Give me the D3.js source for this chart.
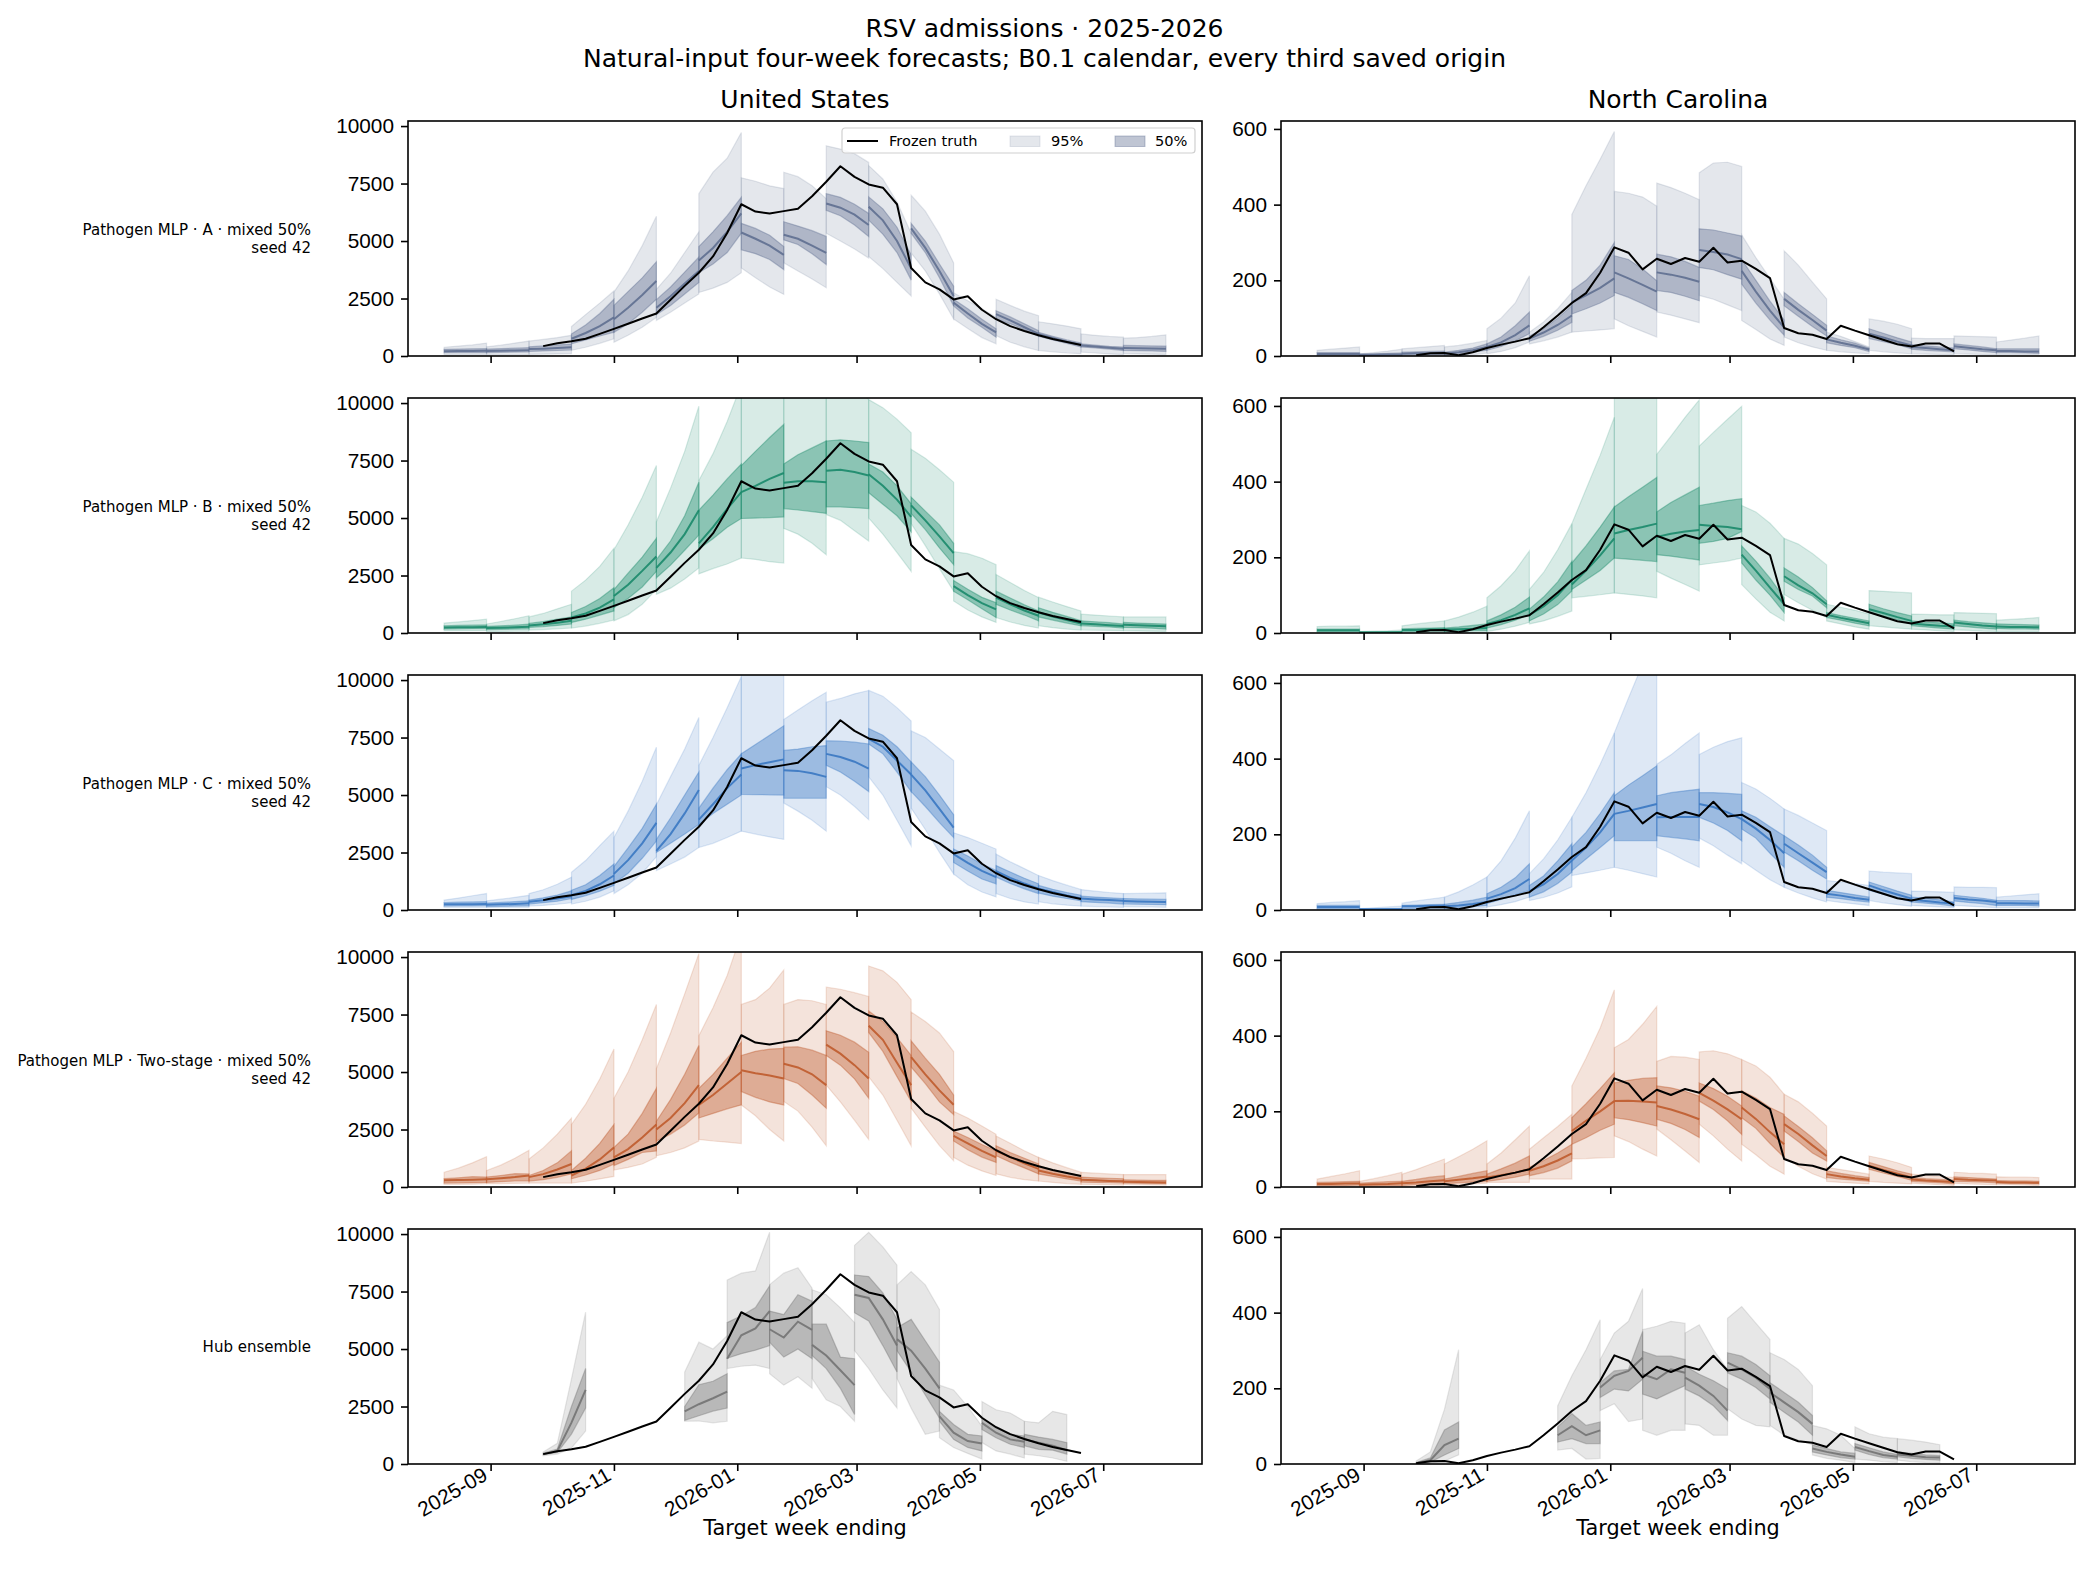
<!DOCTYPE html>
<html lang="en">
<head>
<meta charset="utf-8">
<title>RSV admissions · 2025-2026</title>
<script src="https://cdnjs.cloudflare.com/ajax/libs/d3/7.8.5/d3.min.js"></script>
<style>
  body { margin: 0; background: #fff; }
  svg { display: block; font-family: "DejaVu Sans", sans-serif; }
  .tick line { stroke: #000; stroke-width: 1.6; }
  .tick text { font-size: 20.8px; fill: #000; }
</style>
</head>
<body>
<script>
// ---- data ----
const modelOrigins = ["2025-08-09","2025-08-30","2025-09-20","2025-10-11","2025-11-01","2025-11-22",
  "2025-12-13","2026-01-03","2026-01-24","2026-02-14","2026-03-07","2026-03-28","2026-04-18",
  "2026-05-09","2026-05-30","2026-06-20","2026-07-11"];
const hubOrigins = ["2025-09-27","2025-12-06","2025-12-27","2026-01-17","2026-02-07","2026-02-28",
  "2026-03-21","2026-04-11","2026-05-02","2026-05-23"];
const horizonDays = [0, 7, 14, 21];

const truthStart = "2025-09-27";
const usTruth = [430,550,640,750,960,1180,1400,1630,1850,2450,3050,3620,4330,5350,6600,6280,6200,6300,
  6400,6950,7580,8250,7790,7460,7320,6600,3830,3200,2900,2460,2600,2010,1600,1300,1090,900,740,610,480];
const ncTruth = [2,7,8,2,10,21,30,38,47,76,107,140,166,220,287,273,229,257,243,259,249,286,247,252,230,
  206,74,60,56,45,80,67,55,43,31,25,33,33,12];

// each fan: four weekly points of [q2.5, q25, median, q75, q97.5]
const usA = [
  [[60,150,210,290,380],[60,150,215,300,430],[60,150,220,310,480],[60,150,225,320,560]],
  [[60,150,220,300,400],[60,160,230,320,470],[60,170,240,340,560],[60,180,250,360,650]],
  [[70,200,300,400,650],[80,220,320,440,720],[90,240,350,480,800],[100,260,380,520,900]],
  [[250,530,750,960,1280],[380,700,1000,1350,1800],[550,870,1300,1850,2300],[750,1030,1680,2470,2830]],
  [[600,1030,1600,2200,2780],[900,1400,2100,2800,3700],[1250,1900,2650,3400,4800],[1680,2470,3260,4100,6080]],
  [[1550,1800,2100,2450,2900],[1900,2200,2600,3000,3600],[2300,2700,3150,3650,4500],[2700,3200,3700,4300,5400]],
  [[2760,3620,4150,4760,7060],[2950,4000,4700,5400,8000],[3200,4500,5400,6100,8600],[3620,5340,6200,6900,9720]],
  [[3830,4620,5370,5770,7750],[3400,4450,5100,5550,7600],[3000,4200,4800,5250,7400],[2680,3760,4400,4760,7280]],
  [[4050,5050,5270,5840,7990],[3700,4850,5100,5650,7800],[3350,4450,4800,5450,7400],[2970,3980,4480,5200,6840]],
  [[5340,6340,6630,7060,9140],[5000,6100,6450,6900,9000],[4650,5700,6150,6600,8800],[4260,5200,5700,6200,8420]],
  [[4330,5910,6490,6920,8280],[3800,5300,5900,6400,7700],[3200,4500,5000,5600,6700],[2610,3300,3800,4400,5340]],
  [[4480,5340,5550,5770,6990],[3700,4500,4700,5000,6300],[2700,3400,3700,4000,5300],[1610,2180,2610,3040,4050]],
  [[1610,2180,2320,2470,2750],[1200,1650,1850,2050,2400],[800,1250,1400,1600,2050],[530,820,1030,1180,1680]],
  [[890,1610,1820,1970,2470],[600,1400,1550,1700,2200],[400,1150,1250,1400,1950],[240,860,960,1100,1750]],
  [[240,860,950,1030,1490],[180,700,780,860,1400],[130,550,620,700,1300],[100,390,490,570,1180]],
  [[170,390,460,530,960],[130,350,410,470,900],[90,300,360,420,850],[60,240,316,390,820]],
  [[100,240,345,460,775],[90,230,340,450,800],[80,220,330,440,850],[60,200,316,430,920]]
];
const ncA = [
  [[0,2,5,9,15],[0,2,5,9,18],[0,2,5,9,21],[0,2,5,9,24]],
  [[0,1,3,5,6],[0,1,3,6,9],[0,2,4,7,13],[0,2,4,8,18]],
  [[0,3,6,10,19],[0,3,7,11,22],[0,4,7,12,25],[0,4,8,13,28]],
  [[0,3,6,10,24],[1,6,10,15,28],[3,10,15,21,34],[8,15,24,32,41]],
  [[6,15,24,32,72],[12,25,36,50,100],[22,40,55,80,140],[37,59,81,116,212]],
  [[32,39,46,53,63],[40,52,62,72,90],[50,68,82,100,125],[63,89,107,133,168]],
  [[63,111,142,173,374],[66,125,160,200,450],[69,140,180,240,520],[72,160,205,300,593]],
  [[98,168,221,265,435],[80,155,205,255,430],[65,138,188,230,420],[50,120,170,199,396]],
  [[116,173,221,269,457],[108,168,215,262,445],[98,158,207,250,430],[88,146,196,234,413]],
  [[160,234,280,336,484],[150,228,275,333,510],[135,215,268,325,512],[120,203,256,317,501]],
  [[94,190,225,255,320],[70,140,170,200,260],[45,95,120,145,205],[28,55,75,95,150]],
  [[50,133,151,168,278],[35,105,122,138,240],[24,78,95,110,195],[15,53,67,81,151]],
  [[15,35,44,53,63],[11,28,35,43,52],[8,22,27,34,38],[6,12,17,21,24]],
  [[15,46,59,72,98],[11,38,49,60,92],[8,30,38,48,84],[6,19,28,37,72]],
  [[6,18,24,30,47],[5,15,21,27,46],[4,13,18,24,46],[4,11,15,21,46]],
  [[6,19,26,32,53],[5,16,22,28,52],[4,12,18,24,51],[4,9,15,19,50]],
  [[3,9,13,19,37],[3,9,13,19,42],[3,8,12,19,47],[3,7,12,19,53]]
];
const usB = [
  [[100,172,244,316,430],[100,180,250,330,480],[100,185,255,340,540],[100,190,260,350,600]],
  [[70,150,215,290,390],[70,160,230,310,500],[75,170,250,340,620],[80,180,270,380,750]],
  [[130,244,330,416,700],[150,280,380,500,850],[180,330,450,600,1050],[215,390,530,700,1250]],
  [[215,460,675,890,1820],[300,600,850,1150,2300],[420,780,1100,1500,2900],[560,960,1460,1970,3690]],
  [[530,1100,1610,1890,3620],[800,1500,2100,2600,4700],[1250,2000,2700,3300,5900],[1890,2680,3330,4120,7280]],
  [[1680,2400,2830,3190,4840],[1950,2950,3500,4000,6300],[2350,3600,4300,5100,7900],[2830,4260,5340,6560,9860]],
  [[2570,3650,3900,5340,6630],[2800,4100,4600,6000,7800],[3000,4600,5400,6700,9200],[3260,4980,6130,7350,10800]],
  [[3260,4980,6130,7280,11500],[3200,5000,6400,7900,12500],[3100,5020,6700,8500,13500],[3040,5050,6960,9070,14000]],
  [[4550,5410,6530,7350,11000],[4300,5350,6600,7750,12000],[3900,5280,6600,8050,12500],[3400,5200,6560,8350,13000]],
  [[5150,5480,7060,8350,12000],[4900,5480,7100,8400,11500],[4450,5450,7000,8350,10800],[4000,5410,6850,8280,10150]],
  [[5000,6100,6900,7350,10150],[4300,5600,6400,7000,9800],[3500,5100,5800,6400,9300],[2680,4400,5050,5620,8710]],
  [[4760,5200,5550,5910,7990],[3800,4500,4900,5300,7600],[2800,3700,4200,4700,7100],[1820,2970,3470,3900,6560]],
  [[1390,1820,2040,2280,3540],[1000,1450,1650,1900,3450],[700,1050,1300,1550,3250],[460,675,1030,1320,2970]],
  [[675,1250,1540,1820,2540],[480,1000,1250,1520,2200],[330,780,980,1230,1850],[215,530,750,960,1540]],
  [[316,700,890,1100,1560],[230,560,720,900,1350],[170,430,560,720,1150],[130,316,416,530,960]],
  [[130,316,416,530,820],[120,290,380,490,780],[110,260,340,450,740],[100,215,300,390,700]],
  [[100,244,360,460,700],[90,230,340,430,700],[80,210,310,410,700],[70,172,290,390,700]]
];
const ncB = [
  [[0,4,7,10,17],[0,4,7,10,18],[0,4,7,10,18],[0,4,7,10,19]],
  [[0,0,1,3,4],[0,0,1,3,5],[0,0,1,4,6],[0,1,2,4,8]],
  [[0,4,8,11,19],[0,4,8,12,24],[0,5,9,13,28],[0,5,9,14,32]],
  [[0,4,9,13,32],[1,5,10,16,42],[1,6,11,20,55],[2,6,13,24,71]],
  [[4,13,24,32,93],[10,22,34,48,125],[18,34,48,68,165],[28,48,65,95,217]],
  [[24,32,48,63,115],[32,50,70,95,160],[44,75,100,135,220],[58,111,141,189,289]],
  [[93,115,128,185,289],[97,140,165,230,380],[101,165,205,280,470],[106,198,250,333,570]],
  [[106,198,263,333,700],[102,195,272,360,720],[98,192,280,385,740],[93,189,289,411,760]],
  [[163,207,254,320,472],[145,203,262,345,520],[128,198,268,365,570],[111,193,272,385,616]],
  [[180,237,286,337,494],[185,242,283,343,530],[190,250,280,350,565],[198,268,274,355,599]],
  [[128,185,207,230,337],[90,140,165,190,320],[55,100,120,145,290],[32,54,76,93,250]],
  [[102,137,150,172,250],[80,115,126,148,235],[60,98,105,120,210],[41,67,76,85,180]],
  [[32,41,48,54,76],[24,34,40,46,68],[16,26,33,39,60],[10,19,26,32,50]],
  [[19,54,63,76,112],[16,45,53,64,110],[13,35,42,54,108],[10,24,32,45,106]],
  [[10,19,25,32,50],[8,16,22,29,49],[6,13,19,27,48],[4,10,17,24,48]],
  [[8,19,28,34,54],[7,16,24,30,53],[5,13,20,27,52],[4,10,17,24,51]],
  [[4,12,17,24,34],[4,11,16,23,36],[4,11,16,22,38],[4,10,15,21,41]]
];
const usC = [
  [[115,170,245,320,430],[115,175,250,340,520],[115,180,255,350,620],[115,185,260,360,715]],
  [[115,150,230,300,400],[115,160,245,330,470],[115,170,265,360,550],[115,175,290,400,640]],
  [[170,260,360,430,715],[200,320,420,530,880],[250,380,500,650,1120],[315,500,600,830,1430]],
  [[260,460,640,860,1640],[380,620,830,1100,2150],[560,820,1120,1500,2800],[830,1070,1500,2000,3430]],
  [[715,1140,1570,1890,3150],[1100,1600,2170,2700,4300],[1600,2250,2900,3550,5600],[2320,3000,3790,4600,7080]],
  [[1720,2500,2570,3070,4580],[2000,2900,3300,4000,5800],[2300,3300,4200,5000,7000],[2720,3720,5220,6000,8370]],
  [[2720,3720,3930,4430,6290],[2900,4200,4600,5300,7500],[3150,4600,5300,6100,8800],[3430,5000,5890,6790,10150]],
  [[3430,5030,6150,6790,10900],[3300,5020,6300,7200,11500],[3180,5010,6430,7600,12000],[3070,5000,6550,8010,12500]],
  [[4650,4860,6080,6940,8290],[4300,4860,6050,7000,8700],[3900,4860,5950,7100,9100],[3430,4860,5790,7150,9470]],
  [[5360,6290,6790,7360,9040],[5000,6000,6650,7350,9200],[4500,5600,6450,7300,9400],[3930,5150,6150,7220,9550]],
  [[5790,7220,7440,7890,9550],[5000,6800,7100,7600,9300],[3900,6000,6500,7100,8800],[2790,5150,5890,6440,8220]],
  [[4430,5150,5890,6440,7790],[3500,4500,5200,5800,7500],[2500,3800,4400,5000,7000],[1570,3150,3580,4150,6500]],
  [[1570,2070,2430,2650,3360],[1100,1700,2050,2350,3150],[780,1350,1700,2000,2900],[570,1140,1430,1720,2650]],
  [[715,1430,1690,1930,2430],[500,1150,1400,1650,2100],[350,920,1150,1380,1800],[260,715,930,1140,1500]],
  [[360,740,930,1070,1500],[270,600,780,900,1280],[210,500,630,760,1080],[170,400,500,640,890]],
  [[170,360,500,600,890],[150,330,460,560,820],[130,300,430,530,760],[115,260,400,500,715]],
  [[145,260,390,500,715],[140,250,370,480,720],[130,240,360,470,730],[115,230,345,460,745]]
];
const ncC = [
  [[0,4,8,12,17],[0,4,8,12,20],[0,4,8,12,22],[0,4,8,12,25]],
  [[0,0,2,3,4],[0,0,2,3,6],[0,0,2,4,8],[0,1,2,4,10]],
  [[0,4,10,12,18],[0,4,10,13,24],[0,5,11,14,29],[0,5,11,15,34]],
  [[0,4,10,15,34],[1,6,12,20,48],[3,9,16,26,66],[6,12,21,34,87]],
  [[8,17,30,43,87],[14,28,42,60,130],[22,40,58,85,190],[34,52,82,122,262]],
  [[25,34,50,65,96],[33,48,68,90,135],[45,70,95,130,185],[61,100,131,175,245]],
  [[91,104,131,166,245],[98,135,165,205,310],[105,165,205,255,385],[113,196,254,310,468]],
  [[113,183,254,302,468],[105,183,262,330,560],[96,183,271,355,650],[87,183,280,381,740]],
  [[166,196,245,302,385],[150,192,246,310,410],[130,188,246,315,440],[113,183,246,319,468]],
  [[190,245,280,310,411],[170,230,272,310,430],[145,210,258,308,445],[122,183,240,306,455]],
  [[131,214,240,262,337],[105,190,215,245,320],[80,150,185,220,295],[60,113,150,196,267]],
  [[60,153,175,196,267],[45,130,150,172,250],[32,105,125,145,230],[21,82,100,113,210]],
  [[25,34,43,52,78],[20,30,38,46,74],[16,25,32,40,70],[12,21,27,34,65]],
  [[25,52,65,74,103],[19,42,52,62,100],[14,32,41,50,98],[10,21,30,39,96]],
  [[12,21,27,34,50],[10,18,24,31,49],[8,15,20,27,48],[6,10,17,21,47]],
  [[12,24,32,39,61],[10,20,28,35,60],[8,17,25,31,60],[6,12,21,26,59]],
  [[6,12,18,25,34],[6,12,18,25,37],[6,12,17,25,40],[6,11,17,24,43]]
];
const usTwo = [
  [[115,170,290,360,640],[115,180,300,400,820],[120,190,320,450,1050],[140,200,340,430,1320]],
  [[145,200,340,430,715],[150,230,380,500,950],[160,260,430,580,1250],[170,260,500,570,1600]],
  [[170,260,430,500,1220],[170,320,560,720,1700],[170,420,760,1050,2300],[170,570,1000,1570,3000]],
  [[170,360,500,715,2720],[250,520,800,1250,3600],[350,720,1200,1900,4700],[460,1000,1720,2720,6000]],
  [[740,930,1290,1720,3860],[850,1200,1650,2300,5000],[1000,1500,2150,3200,6400],[1290,1570,2720,4290,7940]],
  [[1360,2000,2500,2860,5150],[1500,2300,3000,3800,6700],[1700,2700,3650,4900,8400],[2000,3220,4430,6150,10150]],
  [[2070,3000,3570,4290,6580],[2000,3200,4000,4900,7800],[1950,3400,4500,5600,9200],[1890,3570,5000,6290,11000]],
  [[3570,4150,5080,5720,7940],[3100,3900,4950,5900,8150],[2500,3700,4850,6000,8650],[2000,3570,4720,6030,9440]],
  [[3720,4720,5360,6080,7940],[3300,4500,5200,6100,8150],[2600,4000,4900,5950,8100],[1790,3430,4430,5720,7940]],
  [[4430,5720,6190,6790,8690],[3700,5300,5800,6600,8600],[2900,4700,5300,6300,8450],[2070,3860,4720,5860,8290]],
  [[4790,6720,7010,7650,9610],[4000,5900,6400,7200,9400],[2900,4800,5400,6500,8900],[1790,3720,4430,5720,8150]],
  [[3430,5220,5650,6360,7610],[2600,4500,4900,5600,7200],[1800,3700,4200,4900,6700],[1140,3150,3580,4000,5890]],
  [[1290,2000,2220,2430,3290],[950,1620,1900,2150,3000],[700,1300,1570,1850,2650],[500,1070,1290,1570,2290]],
  [[570,1360,1570,1790,2220],[420,1080,1300,1500,1900],[320,830,1030,1250,1580],[260,570,790,1000,1290]],
  [[260,570,715,930,1290],[200,460,580,740,1050],[150,350,460,600,840],[115,260,360,500,640]],
  [[115,215,315,430,640],[110,200,290,400,600],[100,185,265,380,570],[85,170,245,360,540]],
  [[115,170,230,315,540],[105,160,220,300,540],[95,150,210,290,540],[85,145,200,290,540]]
];
const ncTwo = [
  [[0,4,8,12,21],[0,4,8,13,28],[0,4,9,14,35],[0,5,9,15,43]],
  [[0,3,6,10,15],[0,3,7,12,22],[0,4,8,14,30],[0,4,10,15,39]],
  [[0,4,10,15,34],[1,6,12,20,46],[2,8,15,26,60],[6,10,18,30,74]],
  [[4,8,15,21,61],[6,11,19,28,80],[8,13,23,36,100],[10,15,28,43,122]],
  [[12,15,25,34,61],[12,20,31,48,90],[12,26,38,63,125],[12,34,47,82,161]],
  [[21,30,43,52,100],[21,38,55,70,130],[21,50,70,90,160],[21,69,89,113,192]],
  [[74,113,148,183,267],[75,130,175,220,340],[77,150,200,260,420],[78,166,227,302,521]],
  [[135,183,227,275,368],[120,178,228,282,390],[100,170,226,287,430],[82,161,223,289,477]],
  [[153,179,214,267,332],[125,168,205,262,345],[95,152,193,253,343],[65,131,179,240,337]],
  [[166,227,249,275,357],[135,205,228,260,360],[100,175,205,240,352],[69,139,179,214,337]],
  [[113,183,210,254,337],[85,155,180,235,320],[55,115,145,210,290],[34,78,113,192,245]],
  [[78,148,166,188,245],[55,120,140,160,225],[35,90,110,130,195],[21,69,82,96,161]],
  [[15,25,34,43,52],[12,21,28,36,46],[10,18,23,30,40],[8,15,19,25,34]],
  [[15,47,56,65,82],[12,37,45,54,74],[10,28,35,43,64],[8,18,25,34,52]],
  [[10,15,20,25,34],[8,13,17,22,31],[6,11,15,20,28],[4,8,13,18,25]],
  [[10,15,21,27,39],[8,14,19,25,37],[7,13,18,23,36],[6,11,17,21,34]],
  [[6,10,13,17,27],[6,9,12,16,26],[5,9,12,16,26],[4,8,11,15,25]]
];
const usHub = [
  [[360,400,430,470,520],[430,500,570,650,900],[700,1300,1800,2500,3700],[1430,2430,3220,4150,6600]],
  [[1860,1900,2290,2500,4000],[1870,2100,2600,3450,5300],[1790,2300,2860,3600,5000],[1860,2430,3150,3930,5580]],
  [[4150,4600,4580,6150,8000],[4250,4800,5600,6450,8300],[4300,4950,5900,6800,8400],[4150,5150,6650,7750,10080]],
  [[3930,5290,5860,6650,7800],[3430,4650,5500,6500,8300],[3790,5000,6190,7360,8540],[3290,4580,5830,7080,7650]],
  [[3720,4720,5180,6080,7580],[2790,4150,4720,6080,7360],[2500,3290,4080,4650,6790],[1860,2150,3430,4580,6150]],
  [[4930,6580,7360,8220,9510],[4150,6220,7220,8150,10080],[3220,5150,6290,7440,9440],[2430,4000,5150,6290,8650]],
  [[3720,4930,5430,5930,7790],[2430,4000,4930,6290,8370],[1290,3000,4150,5360,7790],[1430,2000,3290,4430,6720]],
  [[1140,1860,2070,2290,3430],[720,1070,1360,1720,3220],[460,720,1000,1290,2500],[215,570,890,1220,1640]],
  [[930,1500,1790,2000,2720],[570,1140,1360,1570,2360],[430,860,1070,1290,2220],[260,720,970,1220,1860]],
  [[430,790,1070,1290,1860],[360,640,930,1170,1790],[260,600,790,1070,2290],[115,430,600,930,2150]]
];
const ncHub = [
  [[0,1,2,4,8],[2,5,10,16,32],[8,24,50,90,145],[24,41,67,111,302]],
  [[37,58,76,98,154],[41,67,100,133,233],[13,54,76,102,302],[15,54,89,111,381]],
  [[141,176,202,215,276],[159,198,233,246,346],[112,193,246,250,377],[119,224,281,350,464]],
  [[89,185,237,298,355],[76,172,224,285,364],[89,190,250,285,377],[89,207,241,276,372]],
  [[106,198,228,259,346],[102,180,207,237,368],[76,154,180,220,302],[76,115,141,198,250]],
  [[146,241,268,294,385],[119,224,250,285,416],[102,202,228,263,372],[98,172,198,233,329]],
  [[102,163,189,215,294],[76,137,163,189,276],[63,111,137,163,250],[51,76,106,128,207]],
  [[24,32,41,50,102],[15,24,32,41,93],[10,17,25,32,76],[4,13,19,28,41]],
  [[13,37,45,54,98],[10,25,34,43,80],[6,17,24,32,71],[4,13,19,25,67]],
  [[10,19,25,32,67],[6,15,22,28,63],[4,12,18,24,58],[3,10,17,22,51]]
];

const usYTicks = [0, 2500, 5000, 7500, 10000];
const ncYTicks = [0, 200, 400, 600];
const usYMax = 10220, ncYMax = 621;
const xTickMonths = ["2025-09-01","2025-11-01","2026-01-01","2026-03-01","2026-05-01","2026-07-01"];

// ---- layout ----
const W = 2089, H = 1586;
const colX = [408, 1281], panelW = 794;
const rowY = [121, 398, 675, 952, 1229], panelH = 235;

const parse = d3.utcParse("%Y-%m-%d");

const rows = [
  { label: ["Pathogen MLP · A · mixed 50%", "seed 42"], color: "#5f6f90", us: usA, nc: ncA, origins: modelOrigins },
  { label: ["Pathogen MLP · B · mixed 50%", "seed 42"], color: "#1a8a6a", us: usB, nc: ncB, origins: modelOrigins },
  { label: ["Pathogen MLP · C · mixed 50%", "seed 42"], color: "#3a78c2", us: usC, nc: ncC, origins: modelOrigins },
  { label: ["Pathogen MLP · Two-stage · mixed 50%", "seed 42"], color: "#bf5b2c", us: usTwo, nc: ncTwo, origins: modelOrigins },
  { label: ["Hub ensemble"], color: "#737373", us: usHub, nc: ncHub, origins: hubOrigins }
];
const cols = [
  { title: "United States", key: "us", truth: usTruth, yMax: usYMax, ticks: usYTicks },
  { title: "North Carolina", key: "nc", truth: ncTruth, yMax: ncYMax, ticks: ncYTicks }
];

// x scale: matplotlib-style 5% margin around the forecast dates
const fanDates = modelOrigins.flatMap(o => horizonDays.map(h => d3.utcDay.offset(parse(o), h)));
const [d0, d1] = d3.extent(fanDates);
const pad = (d1 - d0) * 0.05;
const x = d3.scaleUtc().domain([new Date(+d0 - pad), new Date(+d1 + pad)]).range([0, panelW]);
const truthDates = usTruth.map((_, i) => d3.utcDay.offset(parse(truthStart), 7 * i));

const svg = d3.select("body").append("svg").attr("width", W).attr("height", H);

// titles
svg.append("text").attr("x", W / 2).attr("y", 37).attr("text-anchor", "middle")
  .style("font-size", "25px").text("RSV admissions · 2025-2026");
svg.append("text").attr("x", W / 2).attr("y", 67).attr("text-anchor", "middle")
  .style("font-size", "25px").text("Natural-input four-week forecasts; B0.1 calendar, every third saved origin");

cols.forEach((c, ci) => {
  svg.append("text").attr("x", colX[ci] + panelW / 2).attr("y", 108).attr("text-anchor", "middle")
    .style("font-size", "25px").text(c.title);
  svg.append("text").attr("x", colX[ci] + panelW / 2).attr("y", 1535).attr("text-anchor", "middle")
    .style("font-size", "20.8px").text("Target week ending");
});

rows.forEach((r, ri) => {
  // row label
  const lab = svg.append("text").attr("text-anchor", "end").style("font-size", "15px");
  const cy = rowY[ri] + panelH / 2;
  r.label.forEach((t, li) => {
    lab.append("tspan").attr("x", 311)
      .attr("y", cy + 5 + (li - (r.label.length - 1) / 2) * 18).text(t);
  });

  cols.forEach((c, ci) => {
    const g = svg.append("g").attr("transform", `translate(${colX[ci]},${rowY[ri]})`);
    const y = d3.scaleLinear().domain([0, c.yMax]).range([panelH, 0]);
    const clipId = `clip-${ri}-${ci}`;
    g.append("clipPath").attr("id", clipId).append("rect").attr("width", panelW).attr("height", panelH);
    const plot = g.append("g").attr("clip-path", `url(#${clipId})`);

    const fans = r[c.key];
    fans.forEach((fan, k) => {
      const pts = fan.map((q, j) => ({ date: d3.utcDay.offset(parse(r.origins[k]), horizonDays[j]), q }));
      const band = (lo, hi) => d3.area().x(d => x(d.date)).y0(d => y(d.q[lo])).y1(d => y(d.q[hi]));
      plot.append("path").attr("d", band(0, 4)(pts))
        .attr("fill", r.color).attr("fill-opacity", 0.17)
        .attr("stroke", r.color).attr("stroke-opacity", 0.17).attr("stroke-width", 1.2);
      plot.append("path").attr("d", band(1, 3)(pts))
        .attr("fill", r.color).attr("fill-opacity", 0.4)
        .attr("stroke", r.color).attr("stroke-opacity", 0.4).attr("stroke-width", 1.2);
      plot.append("path").attr("d", d3.line().x(d => x(d.date)).y(d => y(d.q[2]))(pts))
        .attr("fill", "none").attr("stroke", r.color).attr("stroke-opacity", 0.9).attr("stroke-width", 2);
    });

    plot.append("path")
      .attr("d", d3.line().x((d, i) => x(truthDates[i])).y(d => y(d))(c.truth))
      .attr("fill", "none").attr("stroke", "#000").attr("stroke-width", 2).attr("stroke-linejoin", "round");

    // axes
    const ya = g.append("g").call(d3.axisLeft(y).tickValues(c.ticks).tickSize(7).tickPadding(7).tickFormat(d3.format("d")));
    ya.select(".domain").remove();
    const isBottom = ri === rows.length - 1;
    const xa = g.append("g").attr("transform", `translate(0,${panelH})`)
      .call(d3.axisBottom(x).tickValues(xTickMonths.map(parse)).tickSize(7).tickPadding(7)
        .tickFormat(isBottom ? d3.utcFormat("%Y-%m") : () => ""));
    xa.select(".domain").remove();
    if (isBottom) {
      xa.selectAll(".tick text")
        .attr("y", 0).attr("dy", null)
        .attr("text-anchor", "end")
        .attr("transform", "translate(-2,15) rotate(-30)");
    }

    g.append("rect").attr("width", panelW).attr("height", panelH)
      .attr("fill", "none").attr("stroke", "#000").attr("stroke-width", 1.6);

    // legend in the first panel
    if (ri === 0 && ci === 0) {
      const lg = g.append("g").attr("transform", `translate(${842 - colX[0]},${128 - rowY[0]})`);
      lg.append("rect").attr("width", 353).attr("height", 25).attr("rx", 3)
        .attr("fill", "#fff").attr("fill-opacity", 0.8).attr("stroke", "#d0d0d0").attr("stroke-width", 1.2);
      lg.append("line").attr("x1", 5).attr("x2", 36).attr("y1", 13).attr("y2", 13)
        .attr("stroke", "#000").attr("stroke-width", 2);
      lg.append("text").attr("x", 47).attr("y", 18).style("font-size", "14.6px").text("Frozen truth");
      lg.append("rect").attr("x", 168).attr("y", 8).attr("width", 30).attr("height", 10.5)
        .attr("fill", r.color).attr("fill-opacity", 0.17).attr("stroke", r.color).attr("stroke-opacity", 0.17);
      lg.append("text").attr("x", 209).attr("y", 18).style("font-size", "14.6px").text("95%");
      lg.append("rect").attr("x", 273).attr("y", 8).attr("width", 30).attr("height", 10.5)
        .attr("fill", r.color).attr("fill-opacity", 0.4).attr("stroke", r.color).attr("stroke-opacity", 0.4);
      lg.append("text").attr("x", 313).attr("y", 18).style("font-size", "14.6px").text("50%");
    }
  });
});
</script>
</body>
</html>
